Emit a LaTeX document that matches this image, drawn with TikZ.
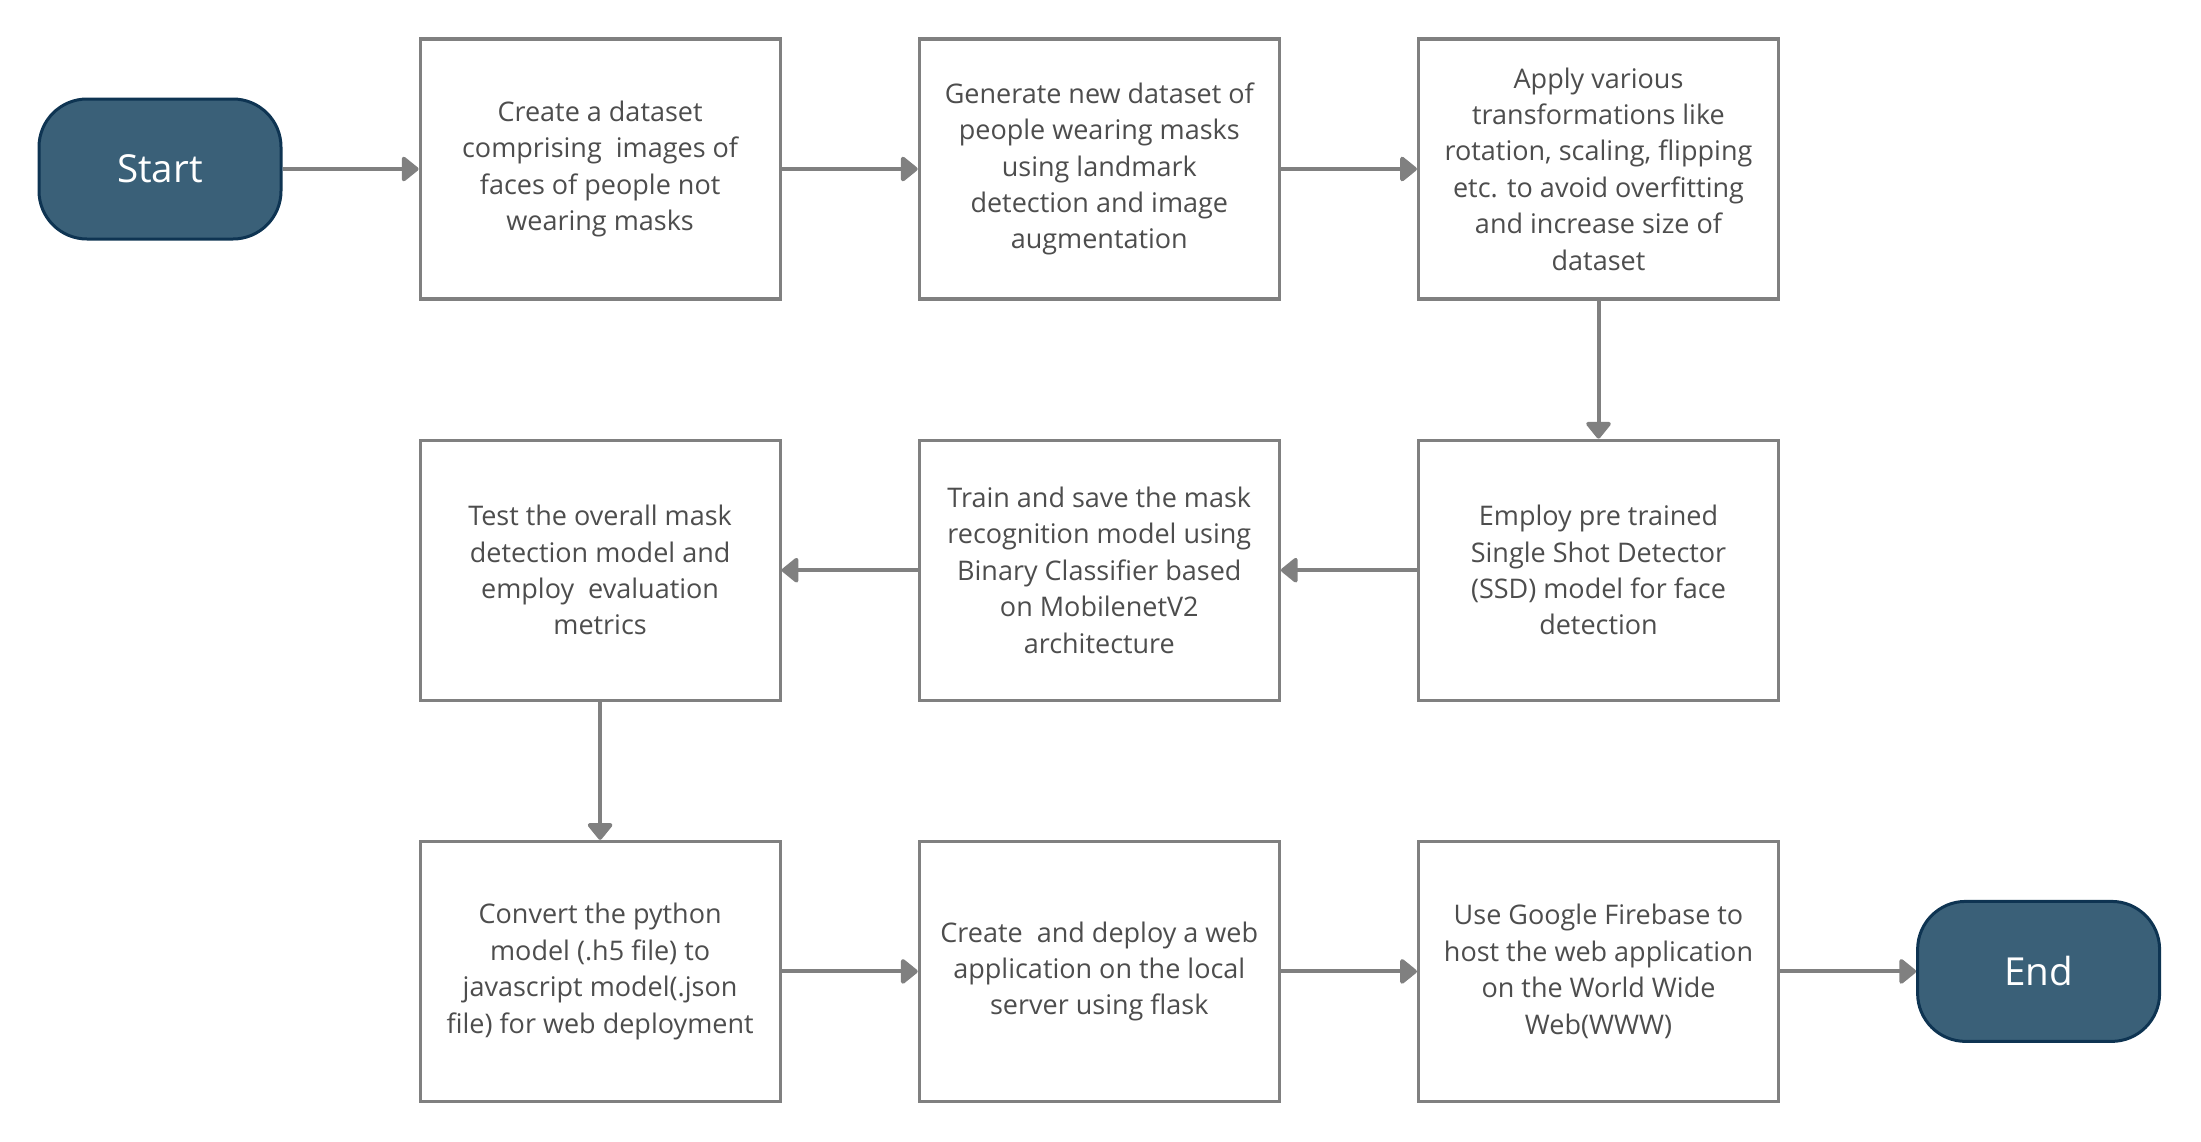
\documentclass[tikz,border=0pt]{standalone}
\usepackage{fontspec}
\setmainfont{Open Sans}
\usetikzlibrary{positioning,arrows.meta}
\definecolor{termfill}{HTML}{3A6078}
\definecolor{termline}{HTML}{0E3452}
\definecolor{boxline}{HTML}{808080}
\definecolor{boxtext}{HTML}{4D4D4D}
\begin{document}
\begin{tikzpicture}
  [node distance = 69pt and 68pt,
   proc/.style={draw=boxline, line width=1.6pt, fill=white, text=boxtext,
     minimum width=180pt, minimum height=130pt, inner sep=2pt, align=center,
     font=\fontsize{13.5}{18.2}\selectfont},
   term/.style={draw=termline, line width=1.5pt, fill=termfill, text=white,
     rounded corners=24pt, minimum width=121pt, minimum height=70pt,
     font=\fontsize{19.3}{22}\selectfont},
   flow/.style={draw=boxline, line width=2pt, -{Triangle[length=9pt,width=14pt,round]}}]
  \useasboundingbox (0,0) rectangle (1100.5pt,-570.5pt);
  \node[term] (start) at (80pt,-84.5pt) {Start};
  \node[proc, right=of start] (collect)
     {Create a dataset\\comprising\ \ images of\\faces of people not\\wearing masks};
  \node[proc, right=of collect] (generate)
     {Generate new dataset of\\people wearing masks\\using landmark\\detection and image\\augmentation};
  \node[proc, right=of generate] (augment)
     {Apply various\\transformations like\\rotation, scaling, flipping\\etc. to avoid overfitting\\and increase size of\\dataset};
  \node[proc, below=of augment] (ssd)
     {Employ pre trained\\Single Shot Detector\\(SSD) model for face\\detection};
  \node[proc, left=of ssd] (train)
     {Train and save the mask\\recognition model using\\Binary Classifier based\\on MobilenetV2\\architecture};
  \node[proc, left=of train] (test)
     {Test the overall mask\\detection model and\\employ\ \ evaluation\\metrics};
  \node[proc, below=of test] (convert)
     {Convert the python\\model (.h5 file) to\\javascript model(.json\\file) for web deployment};
  \node[proc, right=of convert] (deploy)
     {Create\ \ and deploy a web\\application on the local\\server using flask};
  \node[proc, right=of deploy] (host)
     {Use Google Firebase to\\host the web application\\on the World Wide\\Web(WWW)};
  \node[term, right=of host] (end) {End};

  \draw[flow] (start) -- (collect);
  \draw[flow] (collect) -- (generate);
  \draw[flow] (generate) -- (augment);
  \draw[flow] (augment) -- (ssd);
  \draw[flow] (ssd) -- (train);
  \draw[flow] (train) -- (test);
  \draw[flow] (test) -- (convert);
  \draw[flow] (convert) -- (deploy);
  \draw[flow] (deploy) -- (host);
  \draw[flow] (host) -- (end);
\end{tikzpicture}
\end{document}
